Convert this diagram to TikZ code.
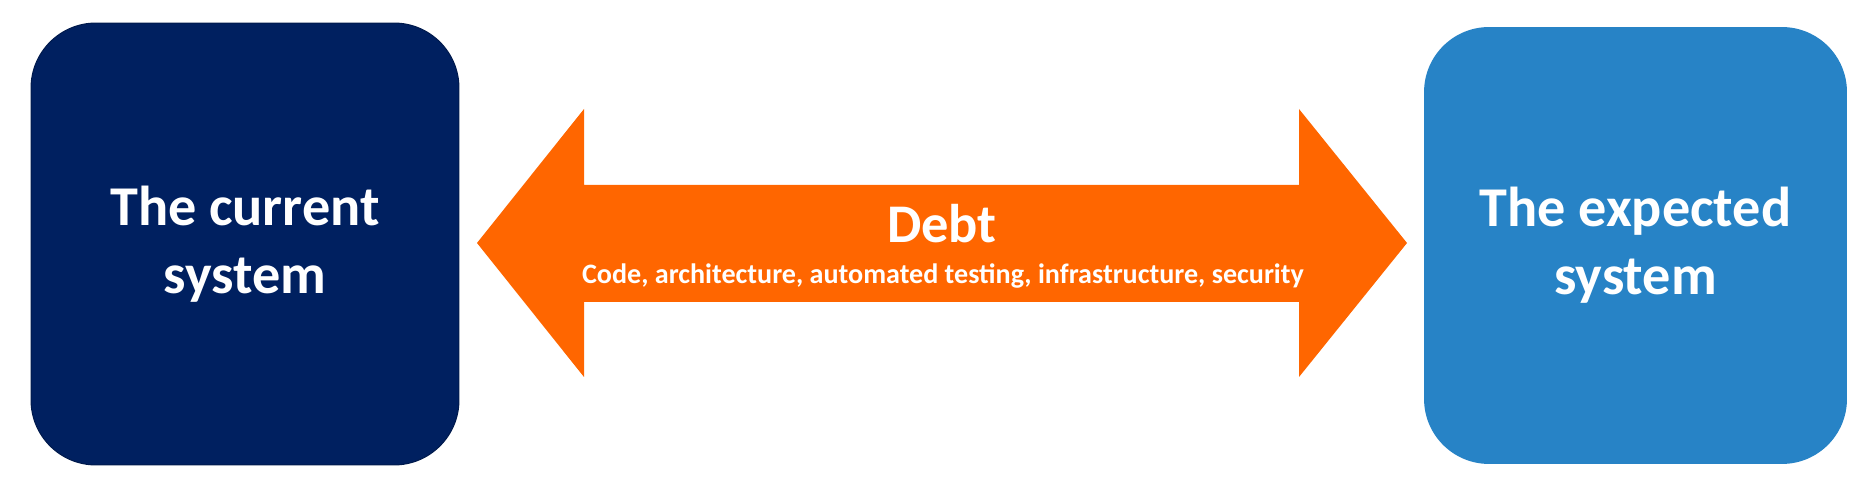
\documentclass[tikz,border=0pt]{standalone}
\usepackage{fontspec}
\setmainfont{Carlito}
\usepackage{tikz}
\usetikzlibrary{arrows}
\usepackage{xcolor}
\definecolor{curnavy}{HTML}{002060}
\definecolor{expblue}{HTML}{2783C6}
\definecolor{debtorange}{HTML}{FF6600}

\begin{document}
\begin{tikzpicture}[x=0.02cm,y=-0.02cm,
  sysbox/.style={rounded corners=1.3cm, text=white, align=center,
    font=\fontsize{32}{38.5}\selectfont\bfseries, inner sep=0pt},
  debtlabel/.style={text=white, inner sep=0pt, anchor=base}]
\useasboundingbox (0,0) rectangle (1876,492);
%%%SYSTEMS
\node[sysbox, fill=curnavy, draw=curnavy!80!black, line width=0.6pt,
  minimum width=8.56cm, minimum height=8.84cm] (current) at (245,244) {The current\\system};
\node[sysbox, fill=expblue,
  minimum width=8.46cm, minimum height=8.74cm] (expected) at (1635.5,245.5) {The expected\\system};
%%%DEBT ARROW
\fill[debtorange] (477,243) -- (584,109) -- (584,185) -- (1299,185) -- (1299,109)
  -- (1407,243) -- (1299,377) -- (1299,302) -- (584,302) -- (584,377) -- cycle;
\node[debtlabel, font=\fontsize{31}{37}\selectfont\bfseries] (debt) at (942,243) {Debt};
\node[debtlabel, font=\fontsize{16}{19}\selectfont\bfseries] (debtitems) at (943,284)
  {Code, architecture, automated testing, infrastructure, security};
\end{tikzpicture}
\end{document}
